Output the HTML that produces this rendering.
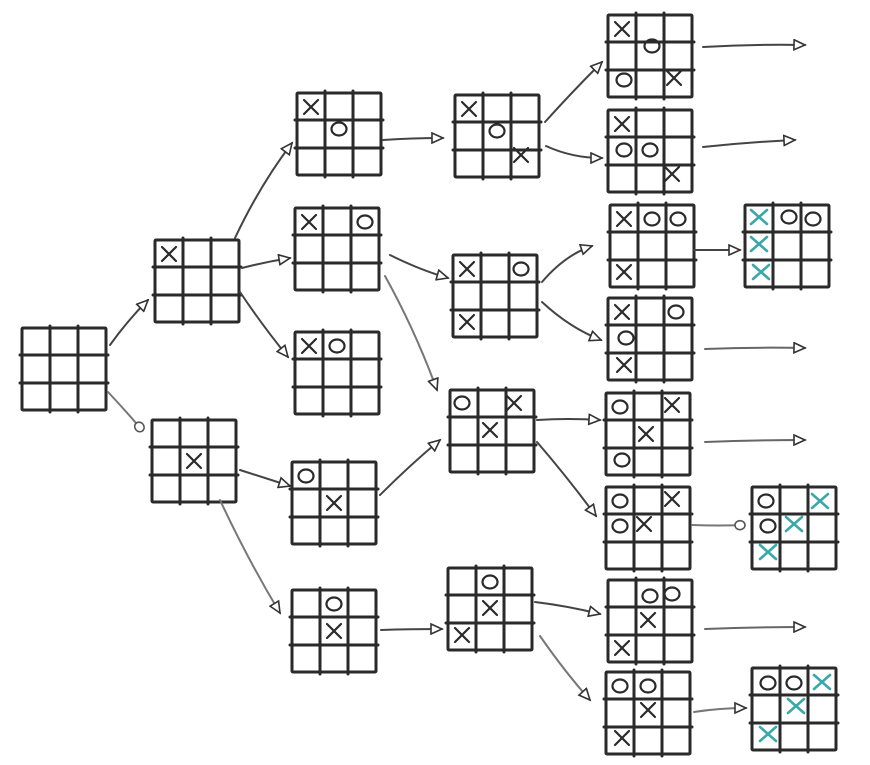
<!DOCTYPE html>
<html><head><meta charset="utf-8"><style>
html,body{margin:0;padding:0;background:#fff;}
svg{display:block;}
</style></head><body>
<svg width="870" height="765" viewBox="0 0 870 765" xmlns="http://www.w3.org/2000/svg">
<defs>
<symbol id="g" overflow="visible">
<g fill="none" stroke="#2a2a2a" stroke-width="3" stroke-linecap="round">
<rect x="0" y="0" width="84" height="82" rx="1"/>
<line x1="28" y1="-2" x2="28" y2="84"/><line x1="56" y1="-2" x2="56" y2="84"/>
<line x1="-2" y1="27" x2="86" y2="27"/><line x1="-2" y1="55" x2="86" y2="55"/>
</g></symbol>
<symbol id="X" overflow="visible"><path d="M-7,-7 L7,7 M7,-7 L-7,7" stroke="#2a2a2a" stroke-width="2.2" fill="none" stroke-linecap="round"/></symbol>
<symbol id="T" overflow="visible"><path d="M-8,-7 L8,7 M8,-7 L-8,7" stroke="#3aa8a8" stroke-width="2.6" fill="none" stroke-linecap="round"/></symbol>
<symbol id="O" overflow="visible"><ellipse cx="0" cy="0" rx="7.5" ry="6.5" stroke="#2a2a2a" stroke-width="2.2" fill="none"/></symbol>
<marker id="ah" markerWidth="14" markerHeight="12" refX="12" refY="6" orient="auto" markerUnits="userSpaceOnUse">
<path d="M1,1 L12,6 L1,11 Z" fill="#fff" stroke="#333" stroke-width="1.6"/></marker>
<marker id="ac" markerWidth="14" markerHeight="12" refX="10" refY="6" orient="auto" markerUnits="userSpaceOnUse">
<ellipse cx="6" cy="6" rx="5" ry="4.5" fill="#fff" stroke="#555" stroke-width="1.6"/></marker>
</defs>

<!-- boards -->
<g>
<use href="#g" x="22" y="328"/>
<use href="#g" x="155" y="240"/><use href="#X" x="169" y="254"/>
<use href="#g" x="152" y="420"/><use href="#X" x="194" y="461"/>

<use href="#g" x="297" y="93"/><use href="#X" x="311" y="107"/><use href="#O" x="339" y="129"/>
<use href="#g" x="295" y="208"/><use href="#X" x="309" y="222"/><use href="#O" x="365" y="222"/>
<use href="#g" x="295" y="332"/><use href="#X" x="309" y="346"/><use href="#O" x="337" y="346"/>
<use href="#g" x="292" y="462"/><use href="#O" x="306" y="476"/><use href="#X" x="334" y="503"/>
<use href="#g" x="292" y="590"/><use href="#O" x="334" y="604"/><use href="#X" x="334" y="631"/>

<use href="#g" x="455" y="95"/><use href="#X" x="469" y="109"/><use href="#O" x="497" y="131"/><use href="#X" x="521" y="155"/>
<use href="#g" x="453" y="255"/><use href="#X" x="467" y="269"/><use href="#O" x="521" y="269"/><use href="#X" x="467" y="322"/>
<use href="#g" x="450" y="390"/><use href="#O" x="462" y="403"/><use href="#X" x="514" y="403"/><use href="#X" x="490" y="430"/>
<use href="#g" x="448" y="568"/><use href="#O" x="490" y="582"/><use href="#X" x="490" y="608"/><use href="#X" x="462" y="635"/>

<use href="#g" x="608" y="15"/><use href="#X" x="622" y="29"/><use href="#O" x="652" y="46"/><use href="#O" x="624" y="80"/><use href="#X" x="674" y="78"/>
<use href="#g" x="608" y="110"/><use href="#X" x="622" y="124"/><use href="#O" x="624" y="150"/><use href="#O" x="650" y="150"/><use href="#X" x="672" y="174"/>
<use href="#g" x="610" y="205"/><use href="#X" x="624" y="219"/><use href="#O" x="652" y="219"/><use href="#O" x="678" y="219"/><use href="#X" x="624" y="272"/>
<use href="#g" x="608" y="298"/><use href="#X" x="622" y="312"/><use href="#O" x="676" y="312"/><use href="#O" x="626" y="338"/><use href="#X" x="624" y="365"/>
<use href="#g" x="606" y="393"/><use href="#O" x="620" y="407"/><use href="#X" x="672" y="405"/><use href="#X" x="646" y="434"/><use href="#O" x="622" y="460"/>
<use href="#g" x="606" y="487"/><use href="#O" x="620" y="501"/><use href="#X" x="672" y="499"/><use href="#O" x="620" y="526"/><use href="#X" x="644" y="524"/>
<use href="#g" x="608" y="580"/><use href="#O" x="650" y="596"/><use href="#O" x="672" y="594"/><use href="#X" x="648" y="620"/><use href="#X" x="622" y="648"/>
<use href="#g" x="606" y="672"/><use href="#O" x="620" y="686"/><use href="#O" x="648" y="686"/><use href="#X" x="648" y="710"/><use href="#X" x="622" y="738"/>

<use href="#g" x="745" y="205"/><use href="#T" x="759" y="217"/><use href="#O" x="789" y="217"/><use href="#O" x="813" y="219"/><use href="#T" x="759" y="244"/><use href="#T" x="761" y="272"/>
<use href="#g" x="752" y="487"/><use href="#O" x="766" y="501"/><use href="#T" x="820" y="501"/><use href="#O" x="768" y="526"/><use href="#T" x="794" y="524"/><use href="#T" x="768" y="552"/>
<use href="#g" x="752" y="668"/><use href="#O" x="768" y="683"/><use href="#O" x="794" y="683"/><use href="#T" x="822" y="682"/><use href="#T" x="796" y="706"/><use href="#T" x="768" y="734"/>
</g>

<!-- arrows -->
<g fill="none" stroke="#444" stroke-width="2" stroke-linecap="round">
<path d="M110,345 Q128,320 148,300" marker-end="url(#ah)"/>
<path d="M108,392 Q125,410 142,430" marker-end="url(#ac)" stroke="#777"/>
<path d="M235,238 Q260,185 292,143" marker-end="url(#ah)"/>
<path d="M242,268 Q265,262 290,258" marker-end="url(#ah)"/>
<path d="M240,292 Q262,325 288,357" marker-end="url(#ah)"/>
<path d="M240,470 Q265,478 290,486" marker-end="url(#ah)"/>
<path d="M220,500 Q248,560 280,613" marker-end="url(#ah)" stroke="#777"/>
<path d="M383,140 Q412,138 443,138" marker-end="url(#ah)"/>
<path d="M390,255 Q420,270 448,278" marker-end="url(#ah)"/>
<path d="M385,276 Q415,330 437,390" marker-end="url(#ah)" stroke="#777"/>
<path d="M380,495 Q410,465 440,440" marker-end="url(#ah)"/>
<path d="M381,630 Q410,629 442,629" marker-end="url(#ah)"/>
<path d="M545,122 Q572,92 602,62" marker-end="url(#ah)"/>
<path d="M546,146 Q572,158 602,158" marker-end="url(#ah)"/>
<path d="M542,282 Q565,255 592,246" marker-end="url(#ah)"/>
<path d="M542,302 Q570,328 601,340" marker-end="url(#ah)"/>
<path d="M537,420 Q568,418 600,420" marker-end="url(#ah)"/>
<path d="M537,442 Q568,478 596,516" marker-end="url(#ah)"/>
<path d="M535,602 Q568,606 600,614" marker-end="url(#ah)"/>
<path d="M540,636 Q565,672 590,700" marker-end="url(#ah)" stroke="#777"/>
<path d="M703,47 Q755,44 805,45" marker-end="url(#ah)"/>
<path d="M703,147 Q750,142 795,140" marker-end="url(#ah)"/>
<path d="M694,250 Q718,250 740,250" marker-end="url(#ah)"/>
<path d="M705,349 Q755,347 805,348" marker-end="url(#ah)" stroke="#666"/>
<path d="M705,442 Q755,440 805,440" marker-end="url(#ah)" stroke="#666"/>
<path d="M692,525 Q718,526 744,525" marker-end="url(#ac)" stroke="#777"/>
<path d="M705,629 Q755,627 805,627" marker-end="url(#ah)" stroke="#666"/>
<path d="M694,712 Q720,708 746,708" marker-end="url(#ah)" stroke="#777"/>
</g>
</svg>
</body></html>
